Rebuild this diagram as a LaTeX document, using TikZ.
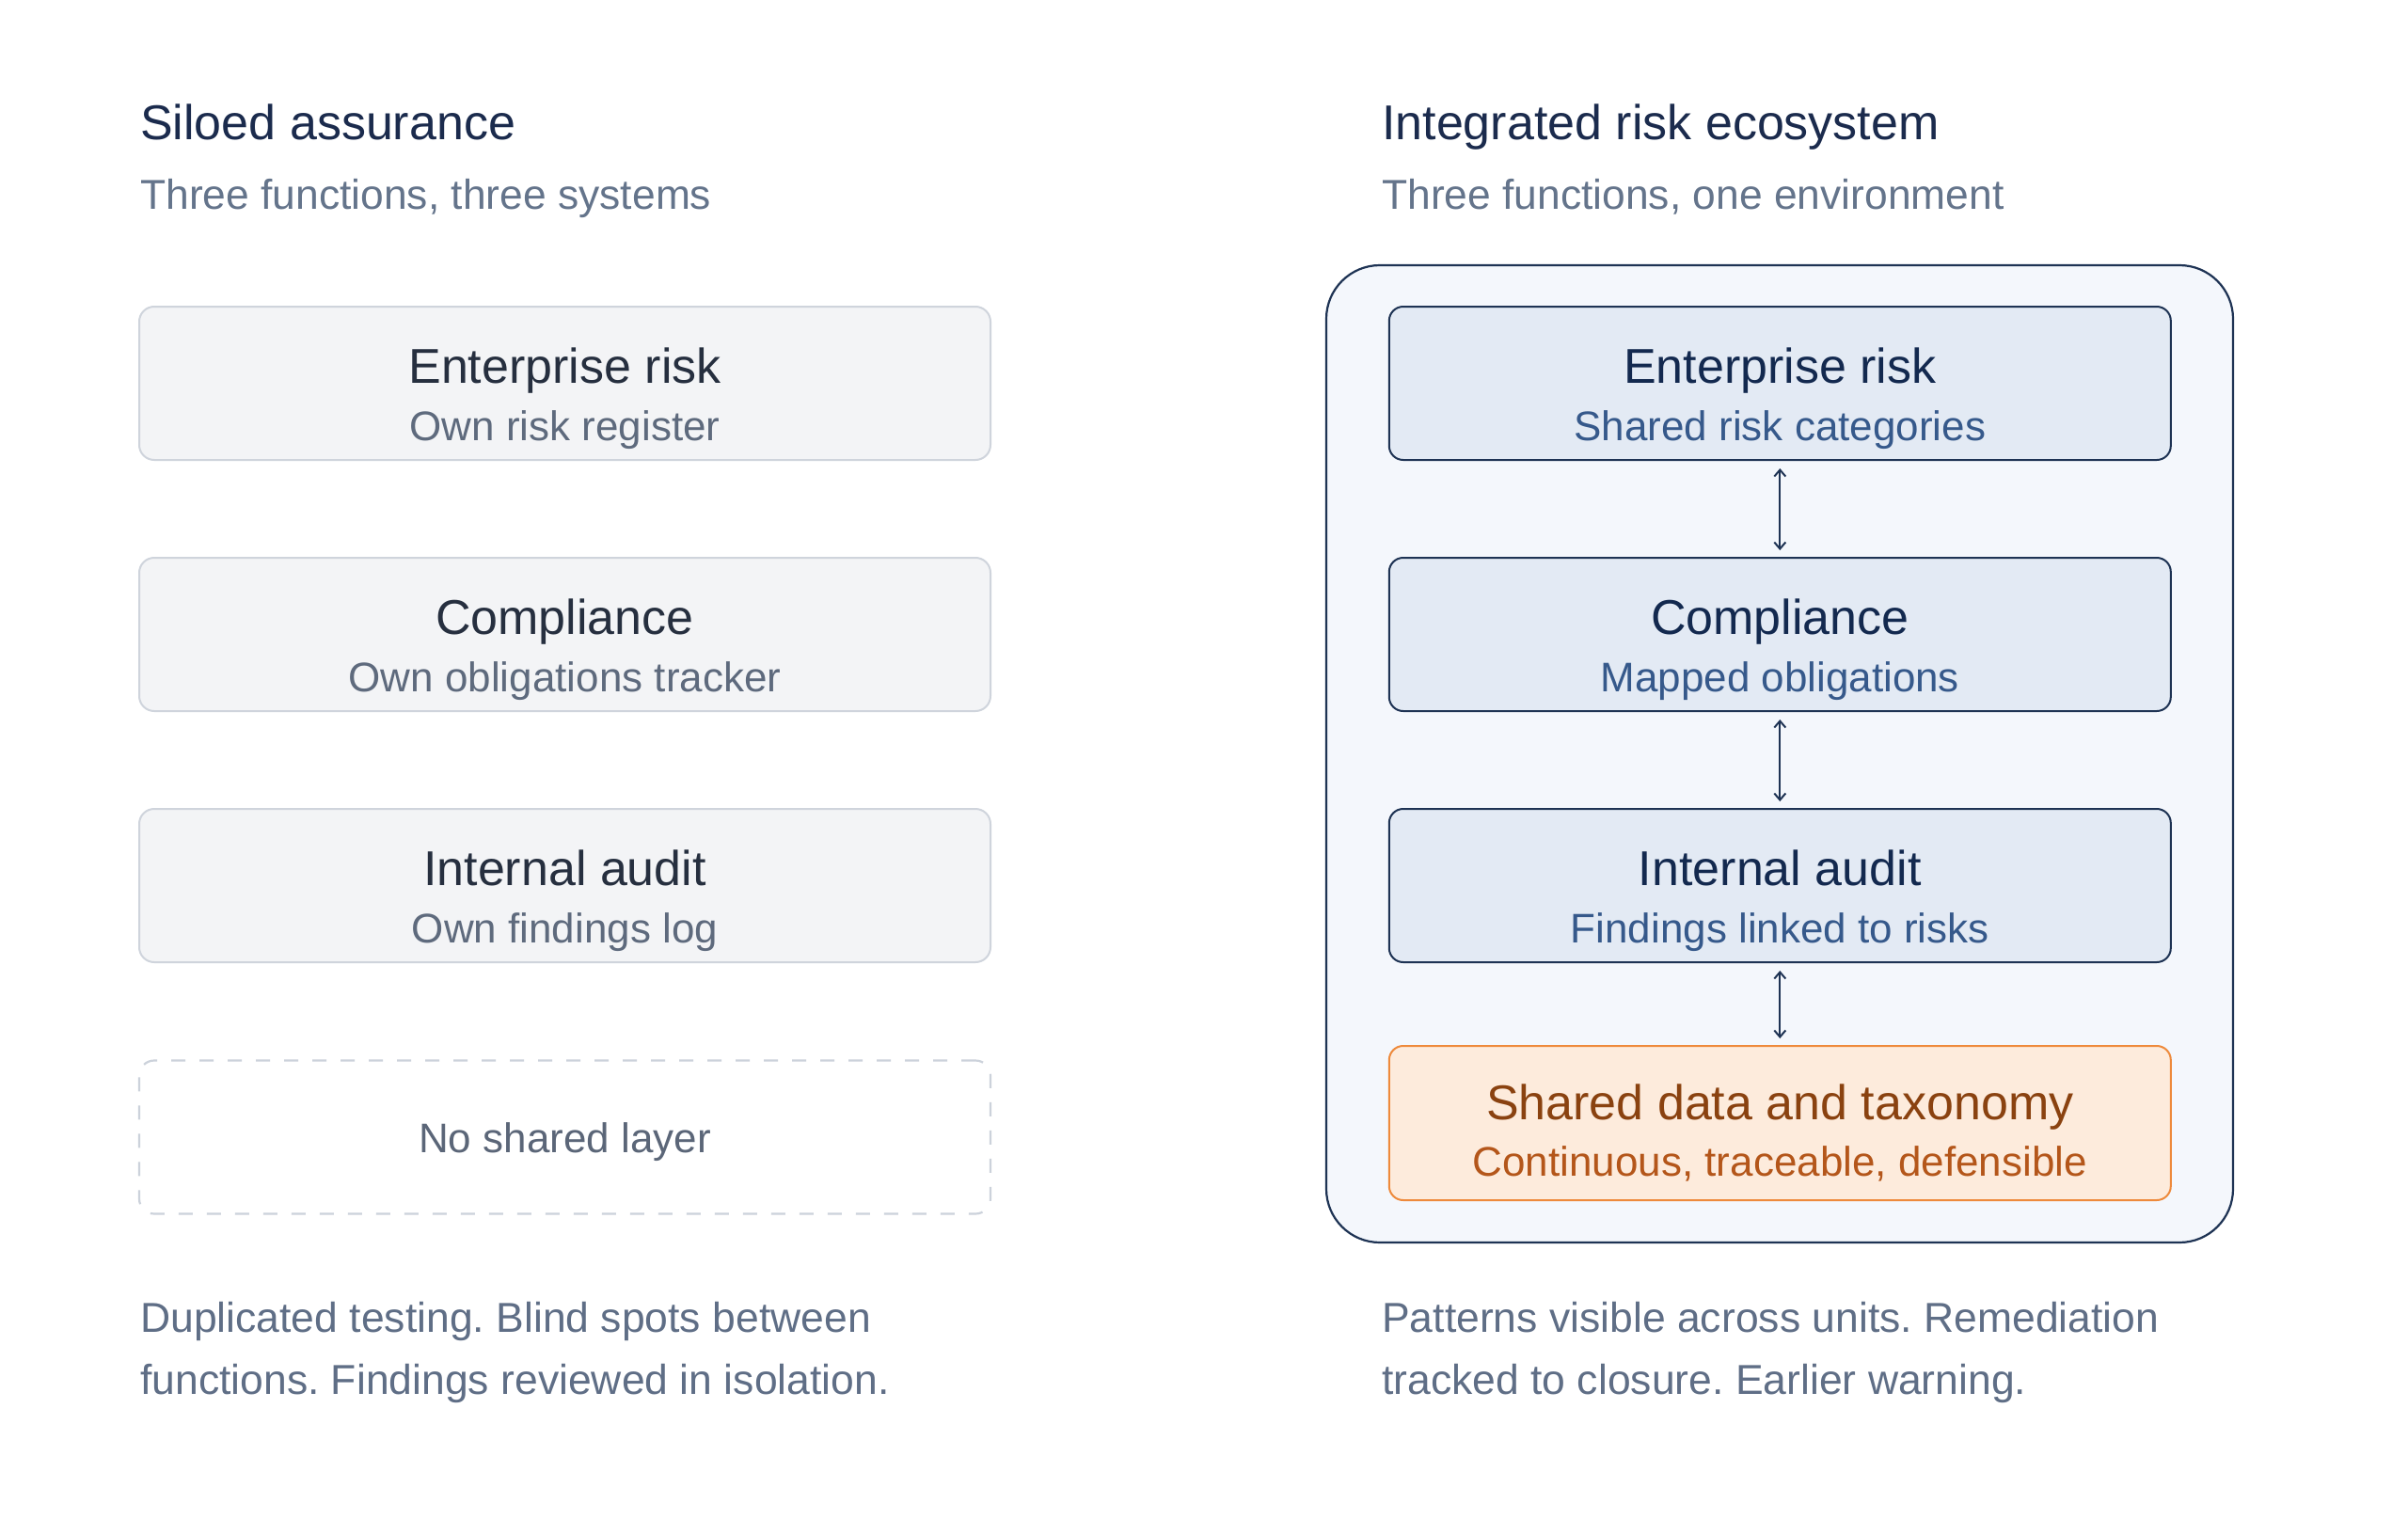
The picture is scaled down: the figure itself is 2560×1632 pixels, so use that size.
\documentclass[tikz,border=0pt]{standalone}
\usepackage{fontspec}
\setmainfont{Liberation Sans}
\usetikzlibrary{arrows.meta}
\frenchspacing
\definecolor{headc}{HTML}{1B2B4D}
\definecolor{slate}{HTML}{64748B}
\definecolor{bodyc}{HTML}{5F6E86}
\definecolor{grayfill}{HTML}{F3F4F6}
\definecolor{grayline}{HTML}{CFD4DC}
\definecolor{graytitle}{HTML}{262F3F}
\definecolor{graysub}{HTML}{5E6A7D}
\definecolor{dashline}{HTML}{CCD2DB}
\definecolor{dashtext}{HTML}{5B6678}
\definecolor{contfill}{HTML}{F4F7FC}
\definecolor{contline}{HTML}{1E3354}
\definecolor{bluefill}{HTML}{E3EAF4}
\definecolor{blueline}{HTML}{1E3354}
\definecolor{bluetitle}{HTML}{13294F}
\definecolor{bluesub}{HTML}{36598B}
\definecolor{orfill}{HTML}{FDEBDC}
\definecolor{orline}{HTML}{EE8A3C}
\definecolor{ortitle}{HTML}{8A4210}
\definecolor{orsub}{HTML}{B4561A}
\begin{document}
\frenchspacing
\begin{tikzpicture}[x=1pt,y=-1pt,
  head/.style={anchor=base west, inner sep=0pt, text=headc, font=\fontsize{52}{60}\selectfont},
  subhead/.style={anchor=base west, inner sep=0pt, text=slate, font=\fontsize{44.4}{52}\selectfont},
  body/.style={anchor=base west, inner sep=0pt, text=bodyc, font=\fontsize{44.5}{52}\selectfont},
  boxtitle/.style={anchor=base, inner sep=0pt, font=\fontsize{52}{60}\selectfont},
  boxsub/.style={anchor=base, inner sep=0pt, font=\fontsize{44}{52}\selectfont},
  graybox/.style={draw=grayline, fill=grayfill, line width=2pt, rounded corners=16pt,
    minimum width=905pt, minimum height=163pt, inner sep=0pt},
  dashbox/.style={draw=dashline, line width=2.2pt, rounded corners=16pt, dash pattern=on 15pt off 15pt,
    minimum width=905pt, minimum height=163pt, inner sep=0pt},
  bluebox/.style={draw=blueline, fill=bluefill, line width=2pt, rounded corners=15pt,
    minimum width=831pt, minimum height=163pt, inner sep=0pt},
  orbox/.style={draw=orline, fill=orfill, line width=2pt, rounded corners=15pt,
    minimum width=831pt, minimum height=164pt, inner sep=0pt},
  container/.style={draw=contline, fill=contfill, line width=2.2pt, rounded corners=57pt,
    minimum width=964pt, minimum height=1039pt, inner sep=0pt},
  link/.style={draw=blueline, line width=2pt,
    {Straight Barb[length=7pt,width=12pt]}-{Straight Barb[length=7pt,width=12pt]}}
]
\useasboundingbox[fill=white] (0,0) rectangle (2560,1632);

% ---------- left column ----------
\node[head] (lt) at (149,149) {Siloed assurance};
\node[subhead] (ls) at (149,223) {Three functions, three systems};

\node[graybox] (l1) at (600.5,407.5) {};
\node[boxtitle, text=graytitle] (l1t) at (600.5,407) {Enterprise risk};
\node[boxsub, text=graysub] (l1s) at (600.5,468) {Own risk register};

\node[graybox] (l2) at (600.5,674.5) {};
\node[boxtitle, text=graytitle] (l2t) at (600.5,674) {Compliance};
\node[boxsub, text=graysub] (l2s) at (600.5,735) {Own obligations tracker};

\node[graybox] (l3) at (600.5,941.5) {};
\node[boxtitle, text=graytitle] (l3t) at (600.5,941) {Internal audit};
\node[boxsub, text=graysub] (l3s) at (600.5,1002) {Own findings log};

\node[dashbox] (l4) at (600.5,1209) {};
\node[boxsub, text=dashtext] (l4t) at (600.5,1225.5) {No shared layer};

\node[body] (lb1) at (149,1416) {Duplicated testing. Blind spots between};
\node[body] (lb2) at (149,1482) {functions. Findings reviewed in isolation.};

% ---------- right column ----------
\node[head] (rt) at (1469,149) {Integrated risk ecosystem};
\node[subhead] (rs) at (1469,223) {Three functions, one environment};

\node[container] (cont) at (1892,801.5) {};

\node[bluebox] (r1) at (1892.3,407.5) {};
\node[boxtitle, text=bluetitle] (r1t) at (1892.3,407) {Enterprise risk};
\node[boxsub, text=bluesub] (r1s) at (1892.3,468) {Shared risk categories};

\node[bluebox] (r2) at (1892.3,674.5) {};
\node[boxtitle, text=bluetitle] (r2t) at (1892.3,674) {Compliance};
\node[boxsub, text=bluesub] (r2s) at (1892.3,735) {Mapped obligations};

\node[bluebox] (r3) at (1892.3,941.5) {};
\node[boxtitle, text=bluetitle] (r3t) at (1892.3,941) {Internal audit};
\node[boxsub, text=bluesub] (r3s) at (1892.3,1002) {Findings linked to risks};

\node[orbox] (r4) at (1892.3,1194) {};
\node[boxtitle, text=ortitle] (r4t) at (1892.3,1190) {Shared data and taxonomy};
\node[boxsub, text=orsub] (r4s) at (1892.3,1250) {Continuous, traceable, defensible};

\draw[link] ([yshift=-8pt]r1.south) -- ([yshift=7pt]r2.north);
\draw[link] ([yshift=-8pt]r2.south) -- ([yshift=7pt]r3.north);
\draw[link] ([yshift=-8pt]r3.south) -- ([yshift=7pt]r4.north);

\node[body] (rb1) at (1469,1416) {Patterns visible across units. Remediation};
\node[body] (rb2) at (1469,1482) {tracked to closure. Earlier warning.};
\end{tikzpicture}
\end{document}
